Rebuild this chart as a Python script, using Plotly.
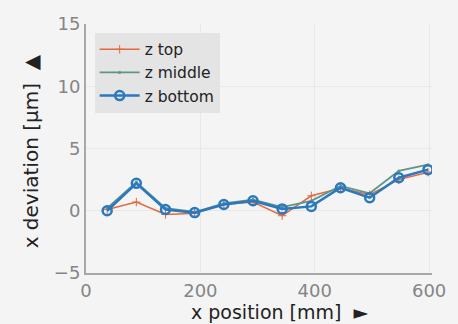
import plotly.graph_objects as go

x_pos = [37, 88, 139, 190, 241, 292, 343, 394, 445, 496, 547, 598]
z_top = [0.1, 0.7, -0.3, -0.2, 0.5, 0.7, -0.4, 1.2, 1.8, 1.3, 2.5, 3.1]
z_middle = [0.2, 2.3, 0.2, -0.1, 0.6, 0.9, 0.3, 0.8, 2.0, 1.4, 3.2, 3.7]
z_bottom = [0.0, 2.2, 0.1, -0.15, 0.5, 0.8, 0.15, 0.35, 1.85, 1.05, 2.65, 3.3]

FONT = "DejaVu Sans, Liberation Sans, sans-serif"

fig = go.Figure()
fig.add_trace(go.Scatter(x=x_pos, y=z_top, name="z top", mode="lines+markers",
                         line=dict(color="#e5683f", width=1.5),
                         marker=dict(symbol="cross-thin-open", size=6, line=dict(color="#e5683f", width=1))))
fig.add_trace(go.Scatter(x=x_pos, y=z_middle, name="z middle", mode="lines+markers",
                         line=dict(color="#5f9489", width=1.8),
                         marker=dict(symbol="circle", size=3, color="#5f9489")))
fig.add_trace(go.Scatter(x=x_pos, y=z_bottom, name="z bottom", mode="lines+markers",
                         line=dict(color="#2a78bd", width=2.5),
                         marker=dict(symbol="circle-open", size=9, line=dict(color="#2a78bd", width=2.5))))

fig.update_layout(
    width=458, height=324,
    margin=dict(l=86, r=18, t=24, b=51),
    paper_bgcolor="#f4f4f4", plot_bgcolor="#f4f4f4",
    font=dict(family=FONT, color="#222222"),
    showlegend=True,
    legend=dict(x=0.025, y=0.965, xanchor="left", yanchor="top",
                bgcolor="#e4e4e4", borderwidth=0,
                font=dict(size=15.5, color="#222222", family=FONT),
                tracegroupgap=0, itemwidth=40),
    annotations=[
        dict(text="x position [mm]  ►", xref="paper", yref="paper",
             x=0.56, y=-0.157, xanchor="center", yanchor="middle", showarrow=False,
             font=dict(size=19, color="#222222", family=FONT)),
        dict(text="x deviation [μm]  ▲", xref="paper", yref="paper",
             x=-0.158, y=0.49, xanchor="center", yanchor="middle", showarrow=False, textangle=-90,
             font=dict(size=20, color="#222222", family=FONT)),
    ],
)
fig.update_xaxes(range=[0, 605], tickvals=[0, 200, 400, 600],
                 showline=True, linecolor="#a8a8a8", linewidth=2,
                 showgrid=True, gridcolor="#e8e8e8", zeroline=False,
                 tickfont=dict(size=18, color="#858585", family=FONT), ticks="")
fig.update_yaxes(range=[-5, 15], tickvals=[-5, 0, 5, 10, 15],
                 showline=True, linecolor="#a8a8a8", linewidth=2,
                 showgrid=True, gridcolor="#e8e8e8", zeroline=False,
                 tickfont=dict(size=18, color="#858585", family=FONT), ticks="")

fig.write_html("out.html")
